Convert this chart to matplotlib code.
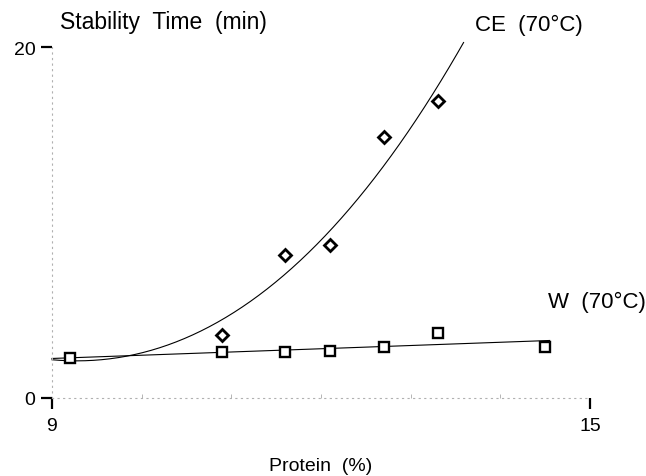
"""Stability time vs protein content, CE and W at 70 C"""

import numpy as np
import matplotlib
matplotlib.use("Agg")
import matplotlib.pyplot as plt
from matplotlib.ticker import FixedLocator

# data
protein_ce = [10.9, 11.6, 12.1, 12.7, 13.3]
stability_ce = [3.6, 8.15, 8.7, 14.9, 16.9]

protein_w = [9.2, 10.9, 11.6, 12.1, 12.7, 13.3, 14.5]
stability_w = [2.28, 2.6, 2.64, 2.66, 2.91, 3.69, 2.92]

# CE trend curve (cubic in protein-9), as drawn in the figure
ce_fit_coef = [0.0301, 0.8196, -0.4582, 2.18]
ce_fit_range = (9.0, 13.59)
w_fit_range = (9.0, 14.55)

plt.rcParams["font.family"] = ["Liberation Sans", "DejaVu Sans"]

fig = plt.figure(figsize=(6.46, 4.77), dpi=100)
ax = fig.add_axes([52 / 646, (477 - 399) / 477, (590 - 52) / 646, (399 - 48) / 477])

# fitted curves
xc = np.linspace(ce_fit_range[0], ce_fit_range[1], 200)
ax.plot(xc, np.polyval(ce_fit_coef, xc - 9), color="black", lw=0.8, clip_on=False)
w_coef = np.polyfit(protein_w, stability_w, 1)
xw = np.linspace(w_fit_range[0], w_fit_range[1], 50)
ax.plot(xw, np.polyval(w_coef, xw), color="black", lw=0.8, clip_on=False)

# points
ax.plot(protein_ce, stability_ce, ls="none", marker="D", ms=6, mfc="white",
        mec="black", mew=2, clip_on=False)
ax.plot(protein_w, stability_w, ls="none", marker="s", ms=7.6, mfc="white",
        mec="black", mew=1.7, clip_on=False)

ax.set_xlim(9, 15)
ax.set_ylim(0, 20)
for side in ["top", "right"]:
    ax.spines[side].set_visible(False)
for side in ["left", "bottom"]:
    ax.spines[side].set_linestyle((0, (1, 4)))
    ax.spines[side].set_color("#b0b0b0")
    ax.spines[side].set_linewidth(0.8)

ax.set_xticks([9, 15])
ax.set_yticks([0, 20])
ax.xaxis.set_minor_locator(FixedLocator([10, 11, 12, 13, 14]))
ax.tick_params(axis="both", which="major", direction="out", length=8, width=1.6,
               color="black", labelsize=14, pad=6)
ax.tick_params(axis="x", which="minor", direction="in", length=3, width=0.6,
               color="#aaaaaa")
ax.tick_params(axis="y", which="major", pad=4)

ax.set_xlabel("Protein  (%)", fontsize=14, labelpad=16)
fig.text(60 / 646, 1 - 22 / 477, "Stability  Time  (min)", fontsize=16.5,
         ha="left", va="center")
fig.text(475 / 646, 1 - 25 / 477, "CE  (70°C)", fontsize=16, ha="left", va="center")
fig.text(548 / 646, 1 - 302 / 477, "W  (70°C)", fontsize=16, ha="left", va="center")

fig.savefig("out.png", dpi=100)
